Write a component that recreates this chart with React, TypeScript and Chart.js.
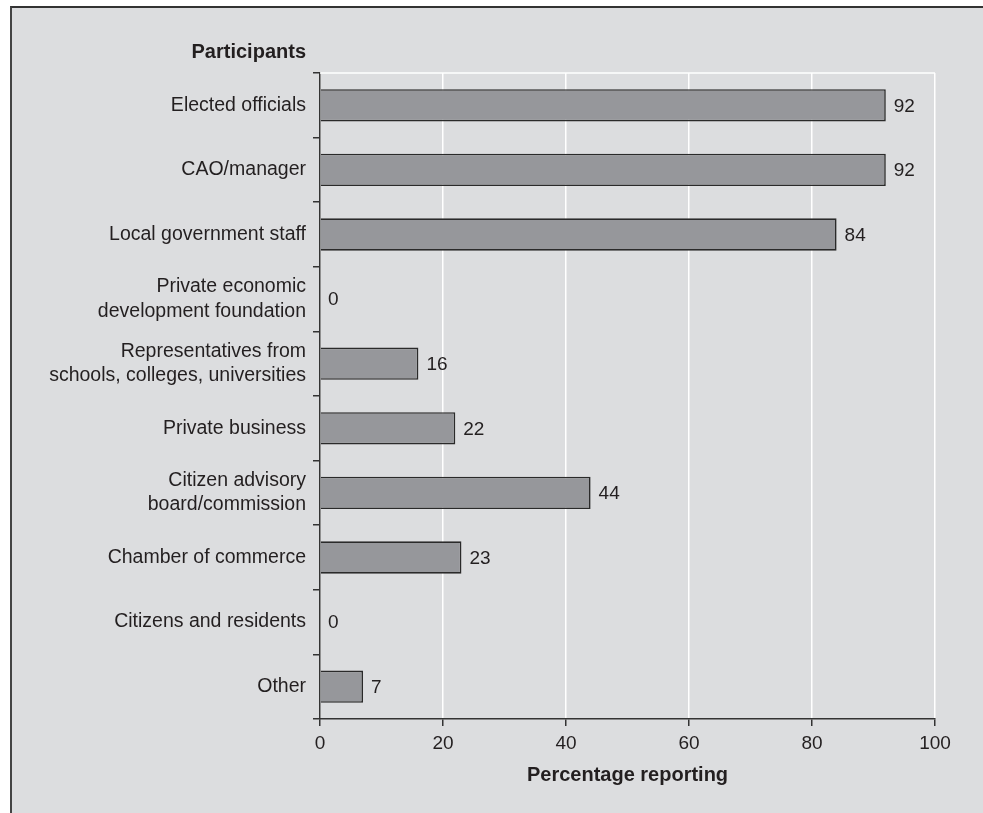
import React, { useEffect, useRef } from "react";
import { Chart, registerables } from "chart.js";

Chart.register(...registerables);

const categories: (string | string[])[] = [
  "Elected officials",
  "CAO/manager",
  "Local government staff",
  ["Private economic", "development foundation"],
  ["Representatives from", "schools, colleges, universities"],
  "Private business",
  ["Citizen advisory", "board/commission"],
  "Chamber of commerce",
  "Citizens and residents",
  "Other",
];
const values: number[] = [92, 92, 84, 0, 16, 22, 44, 23, 0, 7];
const xTicks: number[] = [0, 20, 40, 60, 80, 100];
const yTitle = "Participants";
const xTitle = "Percentage reporting";

const FONT = "'Liberation Sans', Arial, Helvetica, sans-serif";
const TEXT = "#231f20";
const AXIS = "#333333";

const extrasPlugin = {
  id: "extras",
  beforeDatasetsDraw(chart: any) {
    const { ctx, chartArea } = chart;
    ctx.save();
    ctx.strokeStyle = "#ffffff";
    ctx.lineWidth = 1.5;
    ctx.beginPath();
    ctx.moveTo(chartArea.left, chartArea.top);
    ctx.lineTo(chartArea.right, chartArea.top);
    ctx.stroke();
    ctx.restore();
  },
  afterDatasetsDraw(chart: any) {
    const { ctx, chartArea } = chart;
    const meta = chart.getDatasetMeta(0);
    ctx.save();
    ctx.fillStyle = TEXT;
    ctx.font = `19px ${FONT}`;
    ctx.textAlign = "left";
    ctx.textBaseline = "middle";
    meta.data.forEach((bar: any, i: number) => {
      ctx.fillText(String(values[i]), bar.x + 8, bar.y + 1);
    });
    ctx.font = `bold 20px ${FONT}`;
    ctx.textAlign = "right";
    ctx.textBaseline = "alphabetic";
    ctx.fillText(yTitle, chartArea.left - 14, 58);
    ctx.restore();
  },
};

export default function App() {
  const ref = useRef<HTMLCanvasElement | null>(null);

  useEffect(() => {
    document.body.style.margin = "0";
    const canvas = ref.current;
    if (!canvas) return;
    const chart = new Chart(canvas, {
      type: "bar",
      data: {
        labels: categories as any,
        datasets: [
          {
            data: values,
            backgroundColor: "#96979b",
            borderColor: "#2a2a2a",
            borderWidth: 1.6,
            barPercentage: 0.5,
            categoryPercentage: 1,
          },
        ],
      },
      options: {
        indexAxis: "y",
        animation: false,
        responsive: false,
        maintainAspectRatio: false,
        layout: { padding: { top: 73, right: 48, left: 0, bottom: 22 } },
        plugins: {
          legend: { display: false },
          tooltip: { enabled: false },
          title: { display: false },
        },
        scales: {
          x: {
            min: 0,
            max: 100,
            afterBuildTicks: (s: any) => {
              s.ticks = xTicks.map((v) => ({ value: v }));
            },
            afterFit: (s: any) => {
              s.height = 72;
            },
            grid: {
              color: "#ffffff",
              lineWidth: 1.5,
              tickColor: AXIS,
              tickLength: 7,
              drawOnChartArea: true,
            },
            border: { color: AXIS, width: 1.5 },
            ticks: {
              color: TEXT,
              font: { family: FONT, size: 19 },
              padding: 6,
              maxRotation: 0,
            },
            title: {
              display: true,
              text: xTitle,
              color: TEXT,
              font: { family: FONT, size: 20, weight: "bold" },
              padding: { top: 4, bottom: 4 },
            },
          },
          y: {
            afterFit: (s: any) => {
              s.width = 320;
            },
            grid: {
              offset: true,
              drawOnChartArea: false,
              tickColor: AXIS,
              tickLength: 7,
              lineWidth: 1.5,
            },
            border: { color: AXIS, width: 1.5 },
            ticks: {
              color: TEXT,
              font: { family: FONT, size: 19.5, lineHeight: 1.24 },
              padding: 7,
              autoSkip: false,
            },
          },
        },
      },
      plugins: [extrasPlugin],
    });
    return () => chart.destroy();
  }, []);

  return (
    <div
      style={{
        position: "relative",
        width: 983,
        height: 813,
        background: "#ffffff",
        overflow: "hidden",
      }}
    >
      <div
        style={{
          position: "absolute",
          left: 10,
          top: 6,
          right: -10,
          bottom: -10,
          background: "#dcdddf",
          borderLeft: "2px solid #444",
          borderTop: "2px solid #333",
        }}
      />
      <canvas
        ref={ref}
        width={983}
        height={813}
        style={{ position: "absolute", left: 0, top: 0, width: 983, height: 813 }}
      />
    </div>
  );
}
